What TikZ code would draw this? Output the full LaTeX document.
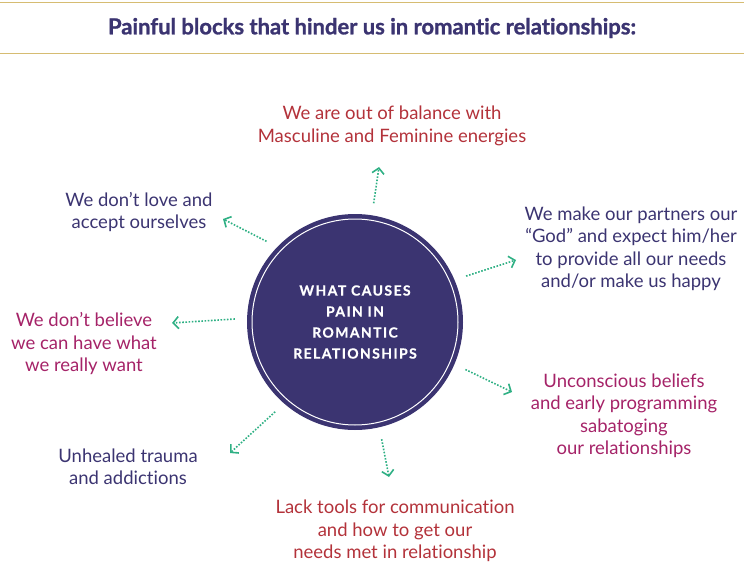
\documentclass[tikz,border=0pt]{standalone}
\usepackage{fontspec}
\setmainfont{Lato}[Ligatures=NoCommon]
\usetikzlibrary{arrows.meta,positioning,calc}
\definecolor{cInk}{HTML}{3B3471}
\definecolor{cRed}{HTML}{B3323A}
\definecolor{cRose}{HTML}{A52368}
\definecolor{cMint}{HTML}{2FB084}
\definecolor{cGold}{HTML}{D6BC72}
\tikzset{
  hub/.style={circle,fill=cInk,minimum size=216pt,inner sep=0pt,text=white,align=center,font=\bfseries\fontsize{14}{21}\selectfont\addfontfeatures{LetterSpace=10,FakeBold=0.6}},
  blk/.style={align=center,font=\fontsize{18.5}{22.5}\selectfont,inner sep=0pt},
  arr/.style={cMint,line width=1.6pt,dash pattern=on 1.6pt off 1.6pt,-{Straight Barb[length=5.5pt,width=12pt,line width=1.6pt]},shorten <=12pt},
  rulegold/.style={cGold,line width=1pt},
  ttl/.style={font=\bfseries\fontsize{22}{24}\selectfont\addfontfeatures{FakeBold=1.2},text=cInk},
}
\begin{document}
\begin{tikzpicture}[x=1pt,y=-1pt]
  \useasboundingbox (0,0) rectangle (744,562);
  % header
  \draw[rulegold] (0,2) -- (744,2);
  \draw[rulegold] (0,53) -- (744,53);
  \node[ttl] (title) at (372,28) {Painful blocks that hinder us in romantic relationships:};
  % centre
  \node[hub] (hub) at (355,322) {WHAT CAUSES\\PAIN IN\\ROMANTIC\\RELATIONSHIPS};
  \draw[white,line width=1pt] (hub.center) circle (103);
  % blocks
  \node[blk,text=cRed] (balance) at (392,126) {We are out of balance with\\Masculine and Feminine energies};
  \node[blk,text=cInk] (love) at (139,212) {We don’t love and\\accept ourselves};
  \node[blk,text=cInk] (god) at (631,249) {We make our partners our\\“God” and expect him/her\\to provide all our needs\\and/or make us happy};
  \node[blk,text=cRose] (believe) at (84,344) {We don’t believe\\we can have what\\we really want};
  \node[blk,text=cRose] (beliefs) at (624,416) {Unconscious beliefs\\and early programming\\sabatoging\\our relationships};
  \node[blk,text=cInk] (trauma) at (128,467) {Unhealed trauma\\and addictions};
  \node[blk,text=cRed] (tools) at (395,531) {Lack tools for communication\\and how to get our\\needs met in relationship};
  % arrow ends
  \coordinate (eBalance) at (379,167);
  \coordinate (eLove) at (223,219);
  \coordinate (eGod) at (516,260);
  \coordinate (eBelieve) at (172,323);
  \coordinate (eBeliefs) at (512,392);
  \coordinate (eTrauma) at (230,453);
  \coordinate (eTools) at (389,477);
  % arrows
  \draw[arr] (hub.81) -- (eBalance);
  \draw[arr] (hub.136) -- (eLove);
  \draw[arr] (hub.23) -- (eGod);
  \draw[arr] (hub.178) -- (eBelieve);
  \draw[arr] (hub.-23) -- (eBeliefs);
  \draw[arr] (hub.229) -- (eTrauma);
  \draw[arr] (hub.283) -- (eTools);
\end{tikzpicture}
\end{document}
